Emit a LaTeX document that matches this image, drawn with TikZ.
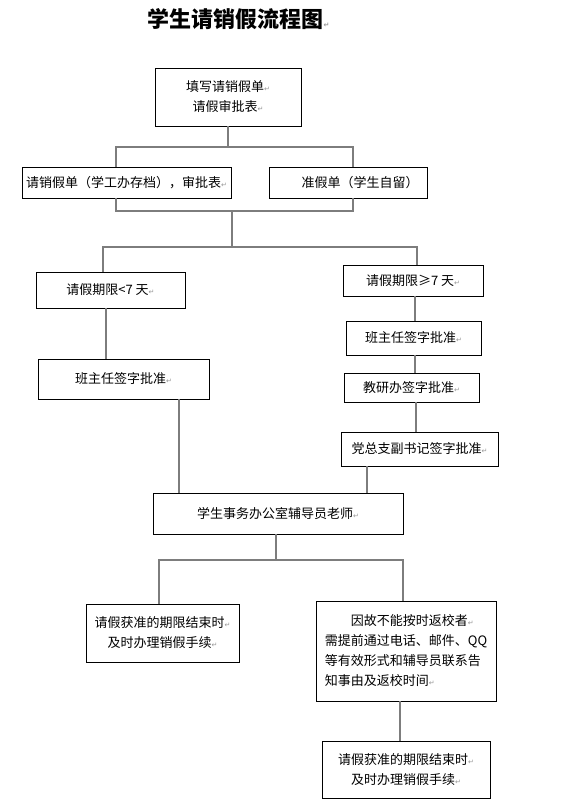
\documentclass[tikz,border=0pt]{standalone}
\usepackage{fontspec}
\usepackage{tikz}
\usetikzlibrary{positioning}
\setmainfont{Noto Sans CJK SC}
\newfontfamily\symfont{DejaVu Sans}
\definecolor{lkgray}{RGB}{125,125,125}
\definecolor{pmgray}{RGB}{150,150,150}
\newcommand{\pmark}{{\symfont\fontsize{7}{7}\selectfont\textcolor{pmgray}{↵}}}
\tikzstyle{link} = [line width=1.1pt, draw=lkgray]

\begin{document}
\begin{tikzpicture}[
    x=1pt, y=-1pt,
    every node/.style={font=\fontsize{13}{20}\selectfont},
    box/.style={rectangle, draw=black, line width=0.8pt, align=center, inner sep=2pt},
    titlebox/.style={font=\fontsize{22}{22}\selectfont\bfseries, anchor=west}
]
\useasboundingbox (0,0) rectangle (567,807);

% Title
\node[titlebox] (title) at (144,19) {学生请销假流程图\pmark};

% Forms
\node[box, minimum width=146pt, minimum height=58pt] (fill) at (228,97) {填写请销假单\pmark\\请假审批表\pmark};
\node[box, minimum width=209pt, minimum height=31pt] (slip) at (126.5,182.5) {请销假单（学工办存档），审批表\pmark};
\node[box, minimum width=158pt, minimum height=31pt] (note) at (348,182.5) {\hspace*{24pt}准假单（学生自留）};

% Short leave (left)
\node[box, minimum width=149pt, minimum height=36pt] (short) at (110.5,290) {请假期限<7 天\pmark};
\node[box, minimum width=171pt, minimum height=40pt] (headL) at (123.5,379) {班主任签字批准\pmark};

% Long leave (right)
\node[box, minimum width=140pt, minimum height=31pt] (long) at (413,280.5) {请假期限≥7 天\pmark};
\node[box, minimum width=135pt, minimum height=34pt] (headR) at (413.5,338) {班主任签字批准\pmark};
\node[box, minimum width=135pt, minimum height=29pt] (office) at (411.5,387.5) {教研办签字批准\pmark};
\node[box, minimum width=157pt, minimum height=34pt] (party) at (419.5,449) {党总支副书记签字批准\pmark};

% Counsellor
\node[box, minimum width=250pt, minimum height=41pt] (tutor) at (278,513.5) {学生事务办公室辅导员老师\pmark};

% Closing
\node[box, minimum width=153pt, minimum height=58pt] (close) at (162.5,633) {请假获准的期限结束时\pmark\\及时办理销假手续\pmark};
\node[box, minimum width=180pt, minimum height=100pt, align=left] (late) at (406,651) {\hspace*{2em}因故不能按时返校者\pmark\\需提前通过电话、邮件、QQ\\等有效形式和辅导员联系告\\知事由及返校时间\pmark};
\node[box, minimum width=168pt, minimum height=57pt] (closeB) at (406,769.5) {请假获准的期限结束时\pmark\\及时办理销假手续\pmark};

% Junctions
\coordinate (s1) at (228,147);
\coordinate (s1l) at (116,147);
\coordinate (s1r) at (353,147);
\coordinate (m1l) at (116,211);
\coordinate (m1c) at (232,211);
\coordinate (m1r) at (353,211);
\coordinate (m2l) at (103,247);
\coordinate (m2c) at (232,247);
\coordinate (m2r) at (417,247);
\coordinate (b1) at (276,560);
\coordinate (b1l) at (159,560);
\coordinate (b1r) at (403,560);

% Connectors
\draw[link] (fill.south) -- (s1);
\draw[link] (s1l |- slip.north) -- (s1l) -- (s1r) -- (s1r |- note.north);
\draw[link] (m1l |- slip.south) -- (m1l) -- (m1r) -- (m1r |- note.south);
\draw[link] (m1c) -- (m2c);
\draw[link] (m2l |- short.north) -- (m2l) -- (m2r) -- (m2r |- long.north);
\draw[link] ([xshift=-4.5pt]short.south) -- ([xshift=-17.5pt]headL.north);
\draw[link] ([xshift=2pt]long.south) -- ([xshift=1.5pt]headR.north);
\draw[link] ([xshift=1.5pt]headR.south) -- ([xshift=3.5pt]office.north);
\draw[link] ([xshift=4.5pt]office.south) -- ([xshift=-3.5pt]party.north);
\draw[link] ([xshift=55.5pt]headL.south) -- ([xshift=-99pt]tutor.north);
\draw[link] ([xshift=-52.5pt]party.south) -- ([xshift=89pt]tutor.north);
\draw[link] (tutor.south -| b1) -- (b1);
\draw[link] (b1l |- close.north) -- (b1l) -- (b1r) -- (b1r |- late.north);
\draw[link] ([xshift=-6pt]late.south) -- ([xshift=-6pt]closeB.north);

\end{tikzpicture}
\end{document}
